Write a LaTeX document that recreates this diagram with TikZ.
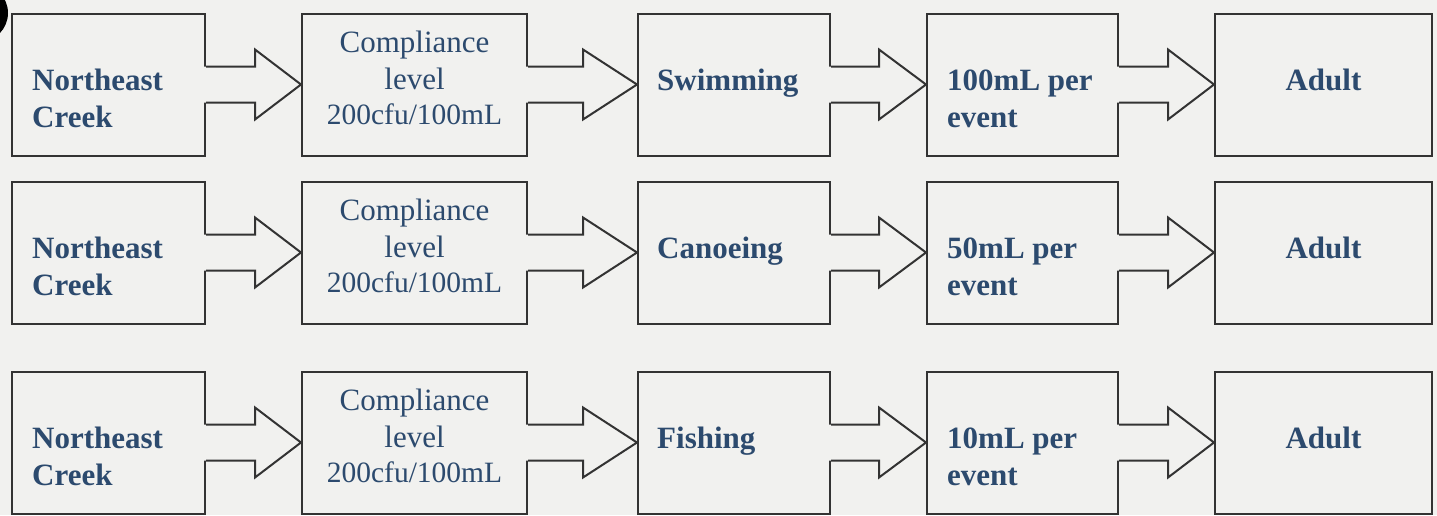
\documentclass[tikz,border=0pt]{standalone}
\usepackage{fontspec}
\setmainfont{Liberation Serif}
\usetikzlibrary{calc}
\definecolor{txt}{HTML}{2C4A6E}
\definecolor{bg}{HTML}{F1F1EF}
\definecolor{ln}{HTML}{333333}
\tikzset{
  box/.style={draw=ln, line width=2pt, rectangle, inner sep=0pt, minimum height=142pt},
  lbl/.style={text=txt, inner sep=0pt, font=\fontsize{31}{37}\selectfont},
  arrowline/.style={draw=ln, line width=2pt, line join=miter},
}
\newcommand\blockarrow[3]{%
  \fill[bg] ($(#1.east)+(-2.5,-18)$) -- ($(#2.west)+(-#3,-18)$) -- ($(#2.west)+(-#3,-35)$)
    -- ($(#2.west)+(-1,0)$) -- ($(#2.west)+(-#3,35)$) -- ($(#2.west)+(-#3,18)$)
    -- ($(#1.east)+(-2.5,18)$) -- cycle;
  \draw[arrowline] ($(#1.east)+(0,-18)$) -- ($(#2.west)+(-#3,-18)$) -- ($(#2.west)+(-#3,-35)$)
    -- (#2.west) -- ($(#2.west)+(-#3,35)$) -- ($(#2.west)+(-#3,18)$)
    -- ($(#1.east)+(0,18)$);
}
\begin{document}
\begin{tikzpicture}[x=1pt,y=-1pt]
\useasboundingbox[fill=bg] (0,0) rectangle (1437,515);
\fill[black] (-21,13) circle (29);
\foreach \r/\yc/\act/\vol in {1/84.5/Swimming/100mL, 2/252.5/Canoeing/50mL, 3/442.5/Fishing/10mL}{
  \node[box, minimum width=193pt] (a\r) at (108.5,\yc) {};
  \node[box, minimum width=225pt] (b\r) at (414.5,\yc) {};
  \node[box, minimum width=192pt] (c\r) at (734,\yc) {};
  \node[box, minimum width=191pt] (d\r) at (1022.5,\yc) {};
  \node[box, minimum width=217pt] (e\r) at (1323.5,\yc) {};
  \blockarrow{a\r}{b\r}{46}
  \blockarrow{b\r}{c\r}{54}
  \blockarrow{c\r}{d\r}{47}
  \blockarrow{d\r}{e\r}{46}
  \node[lbl, anchor=base west] (a\r l1) at ($(a\r.west)+(21,6)$) {\textbf{Northeast}};
  \node[lbl, anchor=base west] (a\r l2) at ($(a\r.west)+(21,43)$) {\textbf{Creek}};
  \node[lbl, anchor=base] (b\r l1) at ($(b\r.center)+(0,-32)$) {Compliance};
  \node[lbl, anchor=base] (b\r l2) at ($(b\r.center)+(0,5)$) {level};
  \node[lbl, anchor=base, font=\fontsize{29.5}{37}\selectfont] (b\r l3) at ($(b\r.center)+(0,40)$) {200cfu/100mL};
  \node[lbl, anchor=base west] (c\r l1) at ($(c\r.west)+(20,6)$) {\textbf{\act}};
  \node[lbl, anchor=base west] (d\r l1) at ($(d\r.west)+(21,6)$) {\textbf{\vol\ per}};
  \node[lbl, anchor=base west] (d\r l2) at ($(d\r.west)+(21,43)$) {\textbf{event}};
  \node[lbl, anchor=base] (e\r l1) at ($(e\r.center)+(0,6)$) {\textbf{Adult}};
}
\end{tikzpicture}
\end{document}
